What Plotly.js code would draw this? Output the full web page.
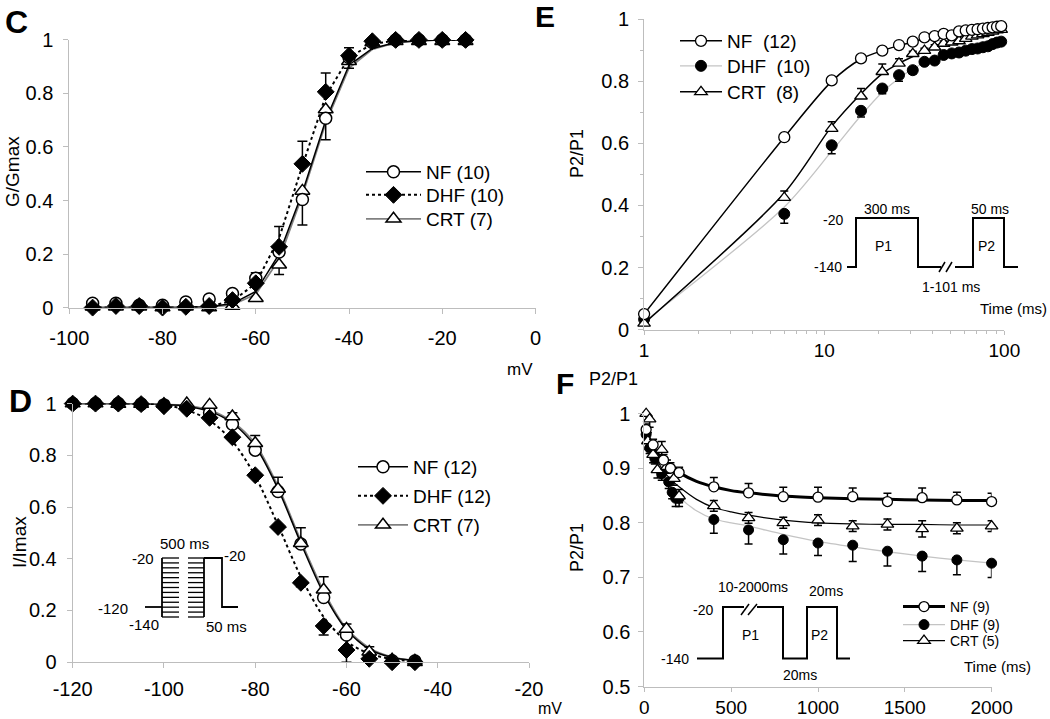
<!DOCTYPE html>
<html>
<head>
<meta charset="utf-8">
<script src="https://cdn.plot.ly/plotly-3.0.1.min.js"></script>
<style>html,body{margin:0;padding:0;background:#fff;}#chart{width:1050px;height:719px;}</style>
</head>
<body>
<div id="chart"></div>
<script>
// ---------------- DATA ----------------
// Panel C: activation (G/Gmax vs mV)
const cVolt = [-95,-90,-85,-80,-75,-70,-65,-60,-55,-50,-45,-40,-35,-30,-25,-20,-15];
const cNF   = [0.016,0.016,0.009,0.009,0.021,0.032,0.053,0.11,0.208,0.404,0.707,0.934,0.99,1.0,1.0,1.0,1.0];
const cDHF  = [0,0.006,0.006,0,0.003,0.006,0.028,0.091,0.227,0.537,0.806,0.941,0.995,1.0,1.0,1.0,1.0];
const cCRT  = [0.003,0.003,0.003,0,0.003,0,0.006,0.035,0.16,0.436,0.74,0.92,0.99,0.995,0.995,0.995,0.995];
const cFitNF  = [0,0,0,0,0,0.003,0.015,0.06,0.2,0.43,0.70,0.905,0.968,0.99,0.997,1,1];
const cFitDHF = [0,0,0,0,0,0.005,0.025,0.09,0.26,0.53,0.79,0.935,0.985,0.997,1,1,1];
const cFitCRT = [0,0,0,0,0,0.002,0.01,0.05,0.18,0.42,0.69,0.895,0.965,0.99,0.997,1,1];
const cErrNFplus   = [0,0,0,0,0,0,0.005,0.02,0.01,0,0,0,0,0,0,0,0];
const cErrNFminus  = [0,0,0,0,0,0,0,0,0,0.095,0.08,0.04,0,0,0,0,0];
const cErrDHFplus  = [0,0,0,0,0,0,0,0.01,0.076,0.084,0.07,0.03,0,0,0,0,0];
const cErrCRTminus = [0,0,0,0,0,0,0,0,0.036,0,0,0,0,0,0,0,0];
const cXTicks = [-100,-80,-60,-40,-20,0];
const cXTickText = ['-100','-80','-60','-40','-20','0'];

// Panel D: inactivation (I/Imax vs mV)
const dVolt = [-120,-115,-110,-105,-100,-95,-90,-85,-80,-75,-70,-65,-60,-55,-50,-45];
const dNF   = [1.0,1.0,1.0,0.998,0.995,0.985,0.965,0.92,0.82,0.66,0.457,0.25,0.105,0.03,0.006,0.005];
const dDHF  = [1.0,1.0,1.0,0.998,0.99,0.98,0.945,0.87,0.723,0.523,0.307,0.14,0.047,0.013,0.0,0.0];
const dCRT  = [1.0,1.0,0.998,0.998,0.998,1.0,0.995,0.95,0.847,0.67,0.46,0.28,0.128,0.04,0.01,0.0];
const dFitNF  = [1,1,1,1,0.997,0.99,0.97,0.925,0.835,0.67,0.46,0.265,0.125,0.05,0.018,0.006];
const dFitDHF = [1,1,1,1,0.995,0.975,0.935,0.855,0.72,0.53,0.33,0.175,0.08,0.033,0.012,0.004];
const dFitCRT = [1,1,1,1,0.998,0.992,0.975,0.93,0.845,0.68,0.47,0.275,0.13,0.055,0.02,0.007];
const dErrCRTplus  = [0,0,0,0,0,0,0,0.015,0.03,0.045,0.06,0.05,0.02,0.02,0,0];
const dErrDHFminus = [0,0,0,0,0,0,0,0,0,0,0.015,0.035,0.047,0.042,0,0];
const dXTicks = [-120,-100,-80,-60,-40,-20];
const dXTickText = ['-120','-100','-80','-60','-40','-20'];

// Panel E: recovery from inactivation (P2/P1 vs interval, log)
const eTime = [1,6,11,16,21,26,31,36,41,46,51,56,61,66,71,76,81,86,91,96];
const eNF  = [0.05,0.62,0.803,0.874,0.899,0.917,0.928,0.942,0.946,0.953,0.948,0.961,0.964,0.966,0.968,0.970,0.972,0.974,0.976,0.978];
const eDHF = [0.033,0.373,0.594,0.705,0.777,0.82,0.836,0.863,0.867,0.885,0.89,0.893,0.899,0.904,0.906,0.91,0.913,0.92,0.925,0.928];
const eCRT = [0.02,0.425,0.648,0.752,0.831,0.858,0.889,0.899,0.91,0.922,0.926,0.93,0.938,0.945,0.949,0.953,0.957,0.961,0.965,0.967];
const eFitNF  = [0.05,0.62,0.80,0.872,0.899,0.915,0.927,0.937,0.944,0.95,0.955,0.959,0.962,0.965,0.968,0.97,0.972,0.974,0.976,0.978];
const eFitDHF = [0.025,0.395,0.575,0.69,0.765,0.81,0.84,0.86,0.872,0.882,0.89,0.896,0.901,0.905,0.909,0.912,0.915,0.918,0.92,0.922];
const eFitCRT = [0.02,0.44,0.655,0.76,0.825,0.858,0.88,0.896,0.908,0.918,0.925,0.931,0.937,0.942,0.946,0.95,0.954,0.958,0.962,0.965];
const eErrCRTplus  = [0.008,0.022,0.022,0.025,0.025,0.015,0.008,0.008,0.008,0.008,0.008,0.008,0.008,0.008,0.008,0.008,0.008,0.008,0.008,0.008];
const eErrDHFminus = [0.008,0.03,0.027,0.02,0.017,0.02,0.012,0.008,0.008,0.008,0.008,0.008,0.008,0.008,0.008,0.008,0.008,0.008,0.008,0.008];
const eXTicks = [1,10,100];
const eXTickText = ['1','10','100'];
const eXMinor = [2,3,4,5,6,7,8,9,20,30,40,50,60,70,80,90];
const eYMinor = [0.1,0.3,0.5,0.7,0.9];

// Panel F: slow inactivation (P2/P1 vs P1 duration)
const fNFTime = [10,50,110,150,200,400,600,800,1000,1200,1400,1600,1800,2000];
const fNF     = [0.971,0.943,0.915,0.90,0.892,0.866,0.855,0.848,0.847,0.848,0.839,0.846,0.842,0.839];
const fNFErr  = [0.01,0.01,0.01,0.01,0.01,0.017,0.017,0.017,0.018,0.016,0.015,0.018,0.014,0.015];
const fDHFTime = [10,30,60,100,140,160,180,200,400,600,800,1000,1200,1400,1600,1800,2000];
const fDHF     = [0.962,0.937,0.918,0.89,0.875,0.856,0.845,0.845,0.806,0.787,0.769,0.763,0.759,0.748,0.739,0.732,0.726];
const fDHFErr  = [0.01,0.01,0.01,0.012,0.012,0.012,0.015,0.015,0.025,0.026,0.026,0.023,0.03,0.027,0.028,0.027,0.026];
const fCRTTime = [10,20,30,50,75,100,130,170,200,400,600,800,1000,1200,1400,1600,1800,2000];
const fCRT     = [1.0,0.95,0.99,0.925,0.897,0.934,0.903,0.881,0.849,0.831,0.809,0.80,0.805,0.794,0.797,0.789,0.79,0.794];
const fCRTErr  = [0.012,0.015,0.015,0.015,0.015,0.015,0.012,0.012,0.012,0.01,0.01,0.01,0.01,0.01,0.01,0.015,0.01,0.01];
const fFitTime = [10,50,100,150,200,300,400,500,600,800,1000,1200,1400,1600,1800,2000];
const fFitNF  = [0.968,0.94,0.918,0.903,0.892,0.876,0.866,0.859,0.855,0.849,0.846,0.844,0.843,0.842,0.841,0.841];
const fFitDHF = [0.96,0.925,0.895,0.87,0.848,0.822,0.807,0.8,0.794,0.779,0.766,0.756,0.747,0.739,0.732,0.726];
const fFitCRT = [0.975,0.93,0.9,0.88,0.866,0.843,0.828,0.82,0.814,0.805,0.8,0.798,0.797,0.797,0.796,0.796];

// Legend labels
const cNames = ['NF (10)','DHF (10)','CRT (7)'];
const dNames = ['NF (12)','DHF (12)','CRT (7)'];
const eNames = ['NF  (12)','DHF  (10)','CRT  (8)'];
const fNames = ['NF (9)','DHF (9)','CRT (5)'];

// ---------------- LAYOUT HELPERS ----------------
const W = 1050, H = 719;
const PX = x => x / W;
const PY = y => 1 - y / H;
const FONT = 'Liberation Sans, Arial, Helvetica, sans-serif';
const AX = '#bdbdbd';
const GRAY = '#808080';
const LIGHT = '#c4c4c4';

function axisBase(extra) {
  return Object.assign({
    showline: true, linecolor: AX, linewidth: 1, ticks: 'outside', ticklen: 5,
    tickcolor: AX, tickwidth: 1, showgrid: false, zeroline: false,
    tickfont: {family: FONT, size: 20, color: '#000'}, fixedrange: true
  }, extra);
}

const traces = [];
function fit(x, y, xa, ya, line, shape) {
  traces.push({x: x, y: y, xaxis: xa, yaxis: ya, mode: 'lines', line: Object.assign({shape: shape || 'linear', smoothing: 0.8}, line),
    showlegend: false, hoverinfo: 'skip', cliponaxis: false});
}
function pts(x, y, xa, ya, marker, err) {
  const t = {x: x, y: y, xaxis: xa, yaxis: ya, mode: 'markers', marker: marker, showlegend: false, cliponaxis: false, hoverinfo: 'skip'};
  if (err) t.error_y = Object.assign({type: 'data', symmetric: false, color: '#000', thickness: 1.5, width: 5}, err);
  traces.push(t);
}
// one legend per entry so each can sit exactly where the reference has it
const legends = {};
let legCount = 0;
function key(name, xa, ya, line, marker, lx, ly, itemwidth, fsize) {
  legCount += 1;
  const id = legCount === 1 ? 'legend' : 'legend' + legCount;
  legends[id] = {x: PX(lx), y: PY(ly), xanchor: 'left', yanchor: 'middle', bgcolor: 'rgba(0,0,0,0)',
    borderwidth: 0, itemwidth: itemwidth, font: {family: FONT, size: fsize, color: '#000'}};
  traces.push({x: [null], y: [null], xaxis: xa, yaxis: ya, mode: 'lines+markers', name: name,
    legend: id, line: line, marker: marker, showlegend: true});
}

const zeros = n => new Array(n).fill(0);

// ---- Panel C ----
const mC = {
  nf: {symbol: 'circle', size: 12, color: '#fff', line: {color: '#000', width: 1.5}},
  dhf: {symbol: 'diamond', size: 13, color: '#000', line: {color: '#000', width: 1}},
  crt: {symbol: 'triangle-up', size: 13, color: '#fff', line: {color: '#000', width: 1.5}}
};
fit(cVolt, cFitCRT, 'x', 'y', {color: GRAY, width: 1.8});
fit(cVolt, cFitNF, 'x', 'y', {color: '#000', width: 1.5});
fit(cVolt, cFitDHF, 'x', 'y', {color: '#000', width: 2, dash: 'dot'});
pts(cVolt, cCRT, 'x', 'y', mC.crt, {array: zeros(17), arrayminus: cErrCRTminus});
pts(cVolt, cNF, 'x', 'y', mC.nf, {array: cErrNFplus, arrayminus: cErrNFminus});
pts(cVolt, cDHF, 'x', 'y', mC.dhf, {array: cErrDHFplus, arrayminus: zeros(17)});
key(cNames[0], 'x', 'y', {color: '#000', width: 1.5}, mC.nf, 361, 172, 55, 19);
key(cNames[1], 'x', 'y', {color: '#000', width: 2, dash: 'dot'}, mC.dhf, 361, 195, 55, 19);
key(cNames[2], 'x', 'y', {color: GRAY, width: 1.8}, mC.crt, 361, 219, 55, 19);

// ---- Panel D ----
fit(dVolt, dFitCRT, 'x2', 'y2', {color: GRAY, width: 1.8}, 'spline');
fit(dVolt, dFitNF, 'x2', 'y2', {color: '#000', width: 1.5}, 'spline');
fit(dVolt, dFitDHF, 'x2', 'y2', {color: '#000', width: 2, dash: 'dot'}, 'spline');
pts(dVolt, dNF, 'x2', 'y2', mC.nf, null);
pts(dVolt, dCRT, 'x2', 'y2', mC.crt, {array: dErrCRTplus, arrayminus: zeros(16)});
pts(dVolt, dDHF, 'x2', 'y2', mC.dhf, {array: zeros(16), arrayminus: dErrDHFminus});
key(dNames[0], 'x2', 'y2', {color: '#000', width: 1.5}, mC.nf, 353, 467, 50, 19);
key(dNames[1], 'x2', 'y2', {color: '#000', width: 2, dash: 'dot'}, mC.dhf, 353, 496, 50, 19);
key(dNames[2], 'x2', 'y2', {color: GRAY, width: 1.8}, mC.crt, 353, 525, 50, 19);

// ---- Panel E ----
const mE = {
  nf: {symbol: 'circle', size: 11, color: '#fff', line: {color: '#000', width: 1.3}},
  dhf: {symbol: 'circle', size: 11, color: '#000', line: {color: '#000', width: 1}},
  crt: {symbol: 'triangle-up', size: 11, color: '#fff', line: {color: '#000', width: 1.3}}
};
fit(eTime, eFitDHF, 'x3', 'y3', {color: LIGHT, width: 1.3}, 'spline');
fit(eTime, eFitCRT, 'x3', 'y3', {color: '#000', width: 1.5}, 'spline');
fit(eTime, eFitNF, 'x3', 'y3', {color: '#000', width: 1.5}, 'spline');
pts(eTime, eDHF, 'x3', 'y3', mE.dhf, {array: zeros(20), arrayminus: eErrDHFminus, width: 4});
pts(eTime, eCRT, 'x3', 'y3', mE.crt, {array: eErrCRTplus, arrayminus: zeros(20), width: 4});
pts(eTime, eNF, 'x3', 'y3', mE.nf, null);
key(eNames[0], 'x3', 'y3', {color: '#000', width: 1.5}, mE.nf, 675, 41, 42, 19);
key(eNames[1], 'x3', 'y3', {color: LIGHT, width: 1.3}, mE.dhf, 675, 66, 42, 19);
key(eNames[2], 'x3', 'y3', {color: '#000', width: 1.5}, mE.crt, 675, 92, 42, 19);

// ---- Panel F ----
const mF = {
  nf: {symbol: 'circle', size: 10, color: '#fff', line: {color: '#000', width: 1.3}},
  dhf: {symbol: 'circle', size: 10, color: '#000', line: {color: '#000', width: 1}},
  crt: {symbol: 'triangle-up', size: 11, color: '#fff', line: {color: '#000', width: 1.3}}
};
fit(fFitTime, fFitDHF, 'x4', 'y4', {color: LIGHT, width: 1.3}, 'spline');
fit(fFitTime, fFitCRT, 'x4', 'y4', {color: '#000', width: 1.2}, 'spline');
fit(fFitTime, fFitNF, 'x4', 'y4', {color: '#000', width: 3}, 'spline');
pts(fDHFTime, fDHF, 'x4', 'y4', mF.dhf, {array: zeros(fDHF.length), arrayminus: fDHFErr, width: 4});
pts(fCRTTime, fCRT, 'x4', 'y4', mF.crt, {array: fCRTErr, arrayminus: fCRTErr, width: 4});
pts(fNFTime, fNF, 'x4', 'y4', mF.nf, {array: fNFErr, arrayminus: zeros(fNF.length), width: 4});
key(fNames[0], 'x4', 'y4', {color: '#000', width: 3}, mF.nf, 898, 607, 42, 14);
key(fNames[1], 'x4', 'y4', {color: LIGHT, width: 1.3}, mF.dhf, 898, 625, 42, 14);
key(fNames[2], 'x4', 'y4', {color: '#000', width: 1.2}, mF.crt, 898, 641, 42, 14);

// ---------------- ANNOTATIONS ----------------
const ann = [];
function txt(t, x, y, size, opts) {
  ann.push(Object.assign({text: t, x: PX(x), y: PY(y), xref: 'paper', yref: 'paper', showarrow: false,
    xanchor: 'center', yanchor: 'middle', font: {family: FONT, size: size, color: '#000'}}, opts || {}));
}
txt('<b>C</b>', 16, 22, 32);
txt('<b>D</b>', 20, 401, 32);
txt('<b>E</b>', 545, 17, 30);
txt('<b>F</b>', 565, 383, 30);
txt('G/Gmax', 12, 172, 19, {textangle: -90});
txt('mV', 520, 369, 17);
txt('I/Imax', 19, 542, 19, {textangle: -90});
txt('mV', 550, 708, 16);
txt('P2/P1', 577, 154, 18, {textangle: -90});
txt('Time (ms)', 1013, 308, 15);
txt('P2/P1', 613, 379, 18);
txt('P2/P1', 577, 548, 18, {textangle: -90});
txt('Time (ms)', 997, 666, 15);
// Inset E
txt('-20', 845, 220, 14, {xanchor: 'right'});
txt('-140', 844, 267, 14, {xanchor: 'right'});
txt('300 ms', 887, 209, 14);
txt('P1', 883, 246, 14);
txt('50 ms', 990, 209, 14);
txt('P2', 986, 246, 14);
txt('1-101 ms', 951, 287, 14);
// Inset F
txt('-20', 715, 610, 14, {xanchor: 'right'});
txt('-140', 691, 659, 14, {xanchor: 'right'});
txt('10-2000ms', 753, 587, 14);
txt('20ms', 826, 591, 14);
txt('P1', 750, 635, 14);
txt('P2', 819, 635, 14);
txt('20ms', 800, 675, 14);
// Inset D
txt('500 ms', 184, 543, 15);
txt('-20', 156, 558, 15, {xanchor: 'right'});
txt('-20', 222, 555, 15, {xanchor: 'left'});
txt('-120', 130, 608, 15, {xanchor: 'right'});
txt('-140', 144, 624, 15);
txt('50 ms', 226, 626, 15);

// ---------------- SHAPES (protocol insets) ----------------
const shapes = [];
function poly(points, width) {
  let d = '';
  points.forEach((p, i) => { d += (i ? 'L' : 'M') + PX(p[0]) + ',' + PY(p[1]); });
  shapes.push({type: 'path', path: d, xref: 'paper', yref: 'paper', line: {color: '#000', width: width || 2}});
}
// E protocol
poly([[847,267],[856,267],[856,218],[918,218],[918,267],[941,267]]);
poly([[955,267],[973,267],[973,218],[1004,218],[1004,267],[1018,267]]);
poly([[939,272],[945,262]], 1.5);
poly([[946,272],[952,262]], 1.5);
// F protocol
poly([[697,658.5],[723,658.5],[723,607],[744,607]]);
poly([[757,607],[783,607],[783,658.5],[807,658.5],[807,607],[837,607],[837,658.5],[850,658.5]]);
poly([[741,615],[749,604]], 1.5);
poly([[748,615],[757,604]], 1.5);
// D protocol
poly([[145,607],[162,607]], 1.8);
poly([[162,558],[162,617]], 1.8);
poly([[204,558],[204,617]], 1.8);
poly([[204,558],[222,558],[222,607],[238,607]], 1.8);
for (let k = 0; k < 13; k++) {
  const yy = 558 + k * 59 / 12;
  poly([[162,yy],[179,yy]], 1.3);
  poly([[188,yy],[204,yy]], 1.3);
}

// ---------------- LAYOUT ----------------
const small = {family: FONT, size: 19, color: '#000'};
const layout = Object.assign({
  width: W, height: H, margin: {l: 0, r: 0, t: 0, b: 0}, paper_bgcolor: '#fff', plot_bgcolor: 'rgba(0,0,0,0)',
  font: {family: FONT, color: '#000'},
  xaxis: axisBase({domain: [PX(69.3), PX(535.5)], range: [-100, 0], tickvals: cXTicks, ticktext: cXTickText, anchor: 'y', ticklabelstandoff: 7}),
  yaxis: axisBase({domain: [PY(307.6), PY(39.9)], range: [0, 1], dtick: 0.2, tick0: 0, anchor: 'x', ticklabelstandoff: 6}),
  xaxis2: axisBase({domain: [PX(72.7), PX(529)], range: [-120, -20], tickvals: dXTicks, ticktext: dXTickText, anchor: 'y2', ticklabelstandoff: 4}),
  yaxis2: axisBase({domain: [PY(662.2), PY(403.6)], range: [0, 1], dtick: 0.2, tick0: 0, anchor: 'x2', ticklabelstandoff: 6}),
  xaxis3: axisBase({domain: [PX(644.1), PX(1004.4)], type: 'log', range: [0, 2], tickvals: eXTicks, ticktext: eXTickText, anchor: 'y3',
    ticklen: 4, ticklabelstandoff: 0, tickfont: small,
    minor: {tickvals: eXMinor, ticks: 'outside', ticklen: 3, tickcolor: AX, showgrid: false}}),
  yaxis3: axisBase({domain: [PY(329.6), PY(19.3)], range: [0, 1], dtick: 0.2, tick0: 0, anchor: 'x3', ticklabelstandoff: 5,
    minor: {tickvals: eYMinor, ticks: 'outside', ticklen: 3, tickcolor: AX, showgrid: false}}),
  xaxis4: axisBase({domain: [PX(644.4), PX(991.6)], range: [0, 2000], dtick: 500, tick0: 0, anchor: 'y4', ticklen: 4, ticklabelstandoff: 0, tickfont: small}),
  yaxis4: axisBase({domain: [PY(686.5), PY(413.7)], range: [0.5, 1], dtick: 0.1, tick0: 0.5, anchor: 'x4', ticklabelstandoff: 4}),
  annotations: ann,
  shapes: shapes
}, legends);

Plotly.newPlot('chart', traces, layout, {staticPlot: true, displayModeBar: false});
</script>
</body>
</html>
